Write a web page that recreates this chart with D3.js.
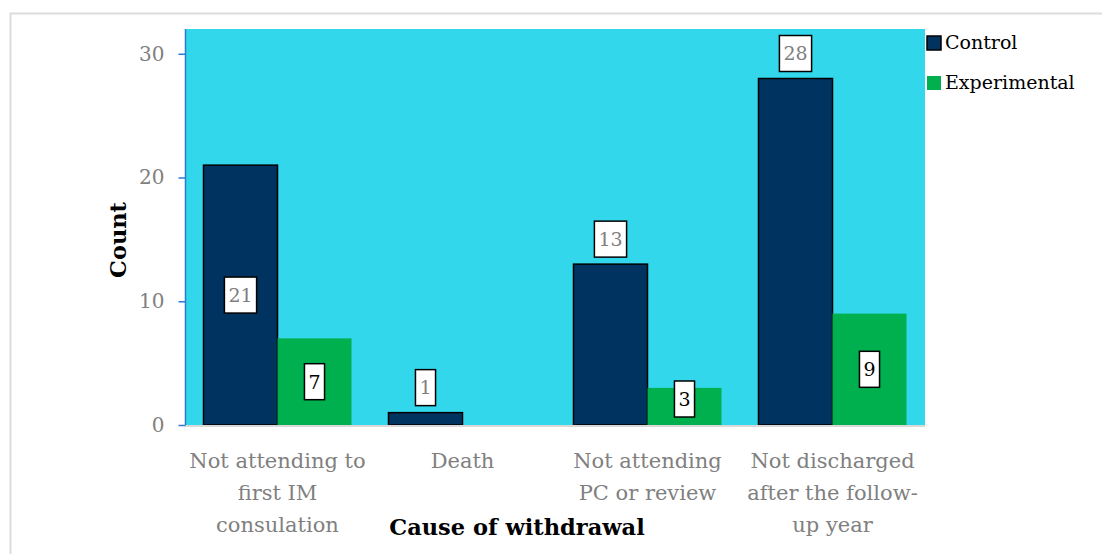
<!DOCTYPE html>
<html>
<head>
<meta charset="utf-8">
<script src="https://d3js.org/d3.v7.min.js"></script>
<style>
body{margin:0;background:#fff;}
text{font-family:"DejaVu Serif",serif;}
</style>
</head>
<body>
<svg></svg>
<script>
// data
var causes = [["Not attending to","first IM","consulation"],["Death"],["Not attending","PC or review"],["Not discharged","after the follow-","up year"]];
var controlCounts = [21, 1, 13, 28];
var experimentalCounts = [7, 0, 3, 9];
var seriesNames = ["Control", "Experimental"];
var yTicks = [0, 10, 20, 30];

var screen = {width: 1102, height: 554};
var plot = {left: 185, right: 925, top: 29, bottom: 425};

var colors = {control: "#00335f", experimental: "#00b04f", bg: "#33d7ec"};

var svg = d3.select("svg")
    .attr("width", screen.width)
    .attr("height", screen.height)

// outer frame
svg.append("rect")
    .attr("x", 10.5).attr("y", 13.5)
    .attr("width", 1100).attr("height", 560)
    .attr("fill", "none")
    .attr("stroke", "#dcdcdc")
    .attr("stroke-width", 2)

svg.append("rect")
    .attr("x", plot.left).attr("y", plot.top)
    .attr("width", plot.right - plot.left)
    .attr("height", plot.bottom - plot.top)
    .attr("fill", colors.bg)

var xScale = d3.scaleBand()
    .domain(d3.range(causes.length))
    .range([plot.left, plot.right])
    .paddingInner(0.2)
    .paddingOuter(0.1)

var yScale = d3.scaleLinear()
    .domain([0, 32])
    .range([plot.bottom, plot.top])

var half = xScale.bandwidth() / 2;

// bars
var groups = svg.selectAll(".grp")
    .data(causes)
    .enter()
    .append("g")
    .attr("class", "grp")

groups.append("rect")
    .attr("x", function(d, i){ return xScale(i) })
    .attr("y", function(d, i){ return yScale(controlCounts[i]) })
    .attr("width", half)
    .attr("height", function(d, i){ return yScale(0) - yScale(controlCounts[i]) })
    .attr("fill", colors.control)
    .attr("stroke", "#000")
    .attr("stroke-width", 1.5)

groups.filter(function(d, i){ return experimentalCounts[i] > 0 })
    .append("rect")
    .attr("x", function(d, i){ return xScale(causes.indexOf(d)) + half })
    .attr("y", function(d){ return yScale(experimentalCounts[causes.indexOf(d)]) })
    .attr("width", half)
    .attr("height", function(d){ return yScale(0) - yScale(experimentalCounts[causes.indexOf(d)]) })
    .attr("fill", colors.experimental)

// x axis line
svg.append("line")
    .attr("x1", plot.left).attr("x2", plot.right)
    .attr("y1", plot.bottom + 1).attr("y2", plot.bottom + 1)
    .attr("stroke", "#d9d9d9")
    .attr("stroke-width", 2)

// y axis
var yAxis = d3.axisLeft(yScale).tickValues(yTicks).tickSize(7).tickPadding(14)
var ya = svg.append("g")
    .attr("transform", "translate(" + (plot.left + 0.5) + ",0)")
    .call(yAxis)
ya.select(".domain").attr("stroke", "#2b7bd6").attr("stroke-width", 1.5)
    .attr("d", "M0," + plot.top + "V" + plot.bottom)
ya.selectAll(".tick line").attr("stroke", "#2b7bd6").attr("stroke-width", 1.5)
ya.selectAll(".tick text")
    .attr("fill", "#808080")
    .style("font-size", "20px")
    .style("font-family", "DejaVu Serif")

// data labels
var controlInside = [true, false, false, false];
function label(cx, cy, value, color){
    var g = svg.append("g")
    var t = g.append("text")
        .attr("x", cx).attr("y", cy)
        .attr("text-anchor", "middle")
        .attr("dy", "0.36em")
        .attr("fill", color)
        .style("font-size", "19px")
        .text(value)
    var w = t.node().getComputedTextLength() + 8;
    g.insert("rect", "text")
        .attr("x", cx - w / 2).attr("y", cy - 18)
        .attr("width", w).attr("height", 36)
        .attr("fill", "#fff")
        .attr("stroke", "#000")
        .attr("stroke-width", 1.5)
}
controlCounts.forEach(function(v, i){
    var cx = xScale(i) + half / 2;
    var cy = controlInside[i] ? (yScale(v) + yScale(0)) / 2 : yScale(v) - 25;
    label(cx, cy, v, "#7f7f7f")
})
experimentalCounts.forEach(function(v, i){
    if (v <= 0) return;
    var cx = xScale(i) + half * 1.5;
    var cy = Math.min((yScale(v) + yScale(0)) / 2, yScale(0) - 26);
    label(cx, cy, v, "#000")
})

// category labels
svg.selectAll(".cat")
    .data(causes)
    .enter()
    .append("text")
    .attr("class", "cat")
    .attr("text-anchor", "middle")
    .attr("fill", "#808080")
    .style("font-size", "21px")
    .each(function(lines, i){
        d3.select(this).selectAll("tspan")
            .data(lines)
            .enter()
            .append("tspan")
            .attr("x", xScale(i) + xScale.bandwidth() / 2)
            .attr("y", function(l, j){ return 468 + j * 32 })
            .text(function(l){ return l })
    })

// axis titles
svg.append("text")
    .attr("x", 517).attr("y", 535)
    .attr("text-anchor", "middle")
    .style("font-size", "22.5px")
    .style("font-weight", "bold")
    .text("Cause of withdrawal")

svg.append("text")
    .attr("transform", "translate(126,240) rotate(-90)")
    .attr("text-anchor", "middle")
    .style("font-size", "22.5px")
    .style("font-weight", "bold")
    .text("Count")

// legend
var legend = svg.selectAll(".leg")
    .data(seriesNames)
    .enter()
    .append("g")
    .attr("class", "leg")
    .attr("transform", function(d, i){ return "translate(927," + (36 + i * 40) + ")" })

legend.append("rect")
    .attr("width", 14).attr("height", 14)
    .attr("fill", function(d, i){ return i == 0 ? colors.control : colors.experimental })
    .attr("stroke", function(d, i){ return i == 0 ? "#000" : "none" })
    .attr("stroke-width", 1.5)

legend.append("text")
    .attr("x", 18).attr("y", 13)
    .style("font-size", "19px")
    .attr("fill", "#000")
    .text(function(d){ return d })
</script>
</body>
</html>
